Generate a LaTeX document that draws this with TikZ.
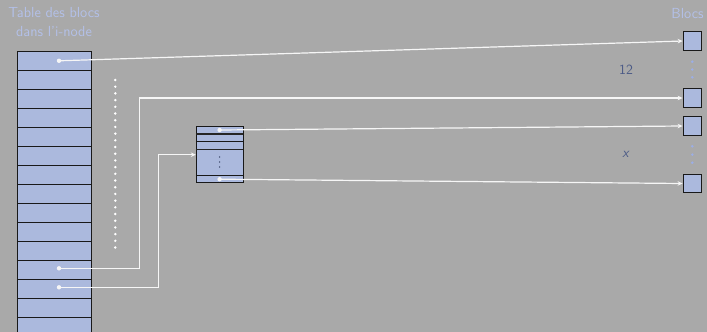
\documentclass[tikz,border=0pt]{standalone}
\usepackage{fontspec}
\usetikzlibrary{arrows.meta}
\definecolor{bgcol}{HTML}{A9A9A9}
\definecolor{cellfill}{HTML}{ABB9DD}
\definecolor{titlecol}{HTML}{B3C0E8}
\definecolor{dotcol}{HTML}{9CAEE6}
\definecolor{darktxt}{HTML}{4B5A86}
\definecolor{linkcol}{HTML}{F6F6F6}
\tikzset{
  cell/.style={draw=black!90, line width=0.8pt, fill=cellfill, minimum width=74pt, minimum height=19pt, inner sep=0pt, outer sep=0pt},
  blk/.style={draw=black!90, line width=0.9pt, fill=cellfill, minimum width=18.5pt, minimum height=18.5pt, inner sep=0pt},
  titletext/.style={text=titlecol, font=\sffamily\fontsize{14.6}{19}\selectfont, inner sep=0pt, align=center},
  darktext/.style={text=darktxt, font=\sffamily\fontsize{14}{16}\selectfont, inner sep=0pt},
  link/.style={draw=linkcol, line width=1.2pt},
  linkarrow/.style={link, -{Stealth[length=5pt,width=4.5pt]}},
  ptr/.style={circle, fill=linkcol, inner sep=0pt, minimum size=4.4pt},
}
\begin{document}
\begin{tikzpicture}[x=1pt,y=-1pt]
\fill[bgcol] (0,0) rectangle (707,332);
\useasboundingbox (0,0) rectangle (707,332);

% titles
\node[titletext] (t1) at (54,22.5) {Table des blocs\\dans l'i-node};
\node[titletext, anchor=base] (blocs) at (687.5,18) {Blocs};

% table of blocks
\foreach \k in {0,...,14} {
  \node[cell] (c\k) at (54,{51.3+19*\k+9.5}) {};
}

% vertical dots
\draw[white, line width=2.7pt, line cap=round, dash pattern=on 0pt off 6.7pt] (115.3,80) -- (115.3,249);

% indirect block
\node[draw=black!90, line width=0.9pt, fill=cellfill, minimum width=46.7pt, minimum height=56pt, inner sep=0pt] (ind) at (219.6,154.7) {};
\draw[black!85, line width=1.1pt] (ind.west |- 0,134) -- (ind.east |- 0,134);
\draw[black!90, line width=0.8pt] (ind.west |- 0,141.7) -- (ind.east |- 0,141.7);
\draw[black!85, line width=1.1pt] (ind.west |- 0,149.3) -- (ind.east |- 0,149.3);
\draw[black!90, line width=0.8pt] (ind.west |- 0,175.3) -- (ind.east |- 0,175.3);
\foreach \yy in {157,162,167} \fill[darktxt!80!black] (219.6,\yy) circle (0.8pt);
\coordinate (p1) at (219.6,130);
\coordinate (p2) at (219.6,179.2);

% pointer positions in table
\coordinate (d0) at (59,60.8);
\coordinate (d11) at (59,268.3);
\coordinate (d12) at (59,287.3);

% blocks
\node[blk] (b1) at (692.3,41) {};
\node[blk] (b2) at (692.3,98) {};
\node[blk] (b3) at (692.3,126) {};
\node[blk] (b4) at (692.3,183.5) {};
\foreach \yy in {61.7,69.5,77.3,146.3,154.6,162.7} \fill[dotcol] (692.3,\yy) circle (1.4pt);

% labels
\node[darktext] (n12) at (626,69.5) {12};
\node[darktext] (nx) at (625.5,154) {\itshape x};

% connectors
\coordinate (k1) at (139.3,0);
\coordinate (k2) at (158.3,0);
\draw[linkarrow] (d0) -- (b1.west);
\draw[linkarrow] (d11) -- (d11 -| k1) -- (k1 |- b2.west) -- (b2.west);
\draw[linkarrow] (d12) -- (d12 -| k2) -- (k2 |- ind.west) -- (ind.west);
\draw[linkarrow] (p1) -- (b3.west);
\draw[linkarrow] (p2) -- (b4.west);
\node[ptr] at (d0) {};
\node[ptr] at (d11) {};
\node[ptr] at (d12) {};
\node[ptr] at (p1) {};
\node[ptr] at (p2) {};
\end{tikzpicture}
\end{document}
